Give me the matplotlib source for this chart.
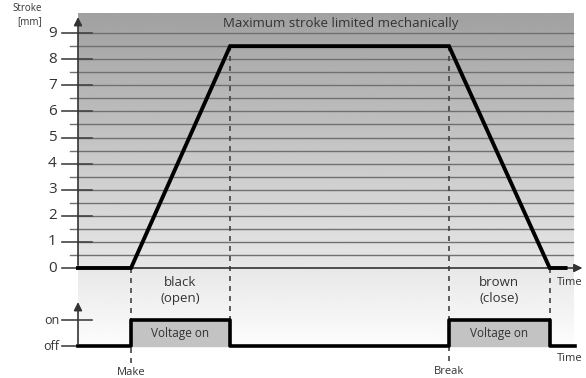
import numpy as np
import matplotlib.pyplot as plt

plt.rcParams['font.family'] = ['Open Sans', 'DejaVu Sans']

# switching instants (time axis, arbitrary units)
t_make = 1.0
t_open_end = 2.87
t_break = 7.0
t_close_end = 8.9

# stroke curve
t_stroke = [0, t_make, t_open_end, t_break, t_close_end, 9.2]
stroke = [0, 0, 8.5, 8.5, 0, 0]

# coil voltage: 0 = off, 1 = on
t_volt = [0, t_make, t_open_end, t_break, t_close_end, 9.38]
volt = [0, 1, 0, 1, 0, 0]

stroke_ticks = list(range(0, 10))
minor_ticks = [i + 0.5 for i in range(0, 9)]

y_off, y_on = -3.0, -2.0
txt = '#333333'

fig = plt.figure(figsize=(5.86, 3.78), dpi=100)
ax = fig.add_axes([0, 0, 1, 1])
ax.set_xlim(-78 / 53, 508 / 53)
ax.set_ylim(-110 / 26.1, 268 / 26.1)
ax.axis('off')

# grey background fading to white towards the bottom
grad = np.linspace(1.0, 0.63, 256).reshape(-1, 1)
ax.imshow(grad, cmap='gray', vmin=0, vmax=1, aspect='auto',
          extent=[0, 9.34, -3.3, 9.73], origin='lower', zorder=0)

# horizontal stroke lines
for y in minor_ticks:
    ax.plot([-0.15, 9.34], [y, y], color='#707070', lw=1.0, zorder=1)
for y in stroke_ticks[1:]:
    ax.plot([0, 9.34], [y, y], color='#707070', lw=1.0, zorder=1)
    ax.plot([-0.30, 0.26], [y, y], color='#444444', lw=1.2, zorder=2)
for y in stroke_ticks:
    ax.text(-0.40, y, str(y), ha='right', va='center', fontsize=11, color=txt)
ax.plot([-0.30, 0], [0, 0], color='#444444', lw=1.2, zorder=2)

ax.text(-0.68, 9.95, 'Stroke', ha='right', va='center', fontsize=7, color=txt)
ax.text(-0.68, 9.45, '[mm]', ha='right', va='center', fontsize=7, color=txt)
ax.text(4.95, 9.36, 'Maximum stroke limited mechanically', ha='center',
        va='center', fontsize=9.5, color=txt)

# axes with arrows
ax.annotate('', xy=(0, 9.72), xytext=(0, 0),
            arrowprops=dict(arrowstyle='-|>', color='#333333', lw=1.2,
                            mutation_scale=12), zorder=3)
ax.annotate('', xy=(9.57, 0), xytext=(0, 0),
            arrowprops=dict(arrowstyle='-|>', color='#333333', lw=1.2,
                            mutation_scale=12), zorder=3)
ax.annotate('', xy=(0, -1.2), xytext=(0, y_off),
            arrowprops=dict(arrowstyle='-|>', color='#333333', lw=1.2,
                            mutation_scale=12), zorder=3)
ax.text(9.03, -0.55, 'Time', ha='left', va='center', fontsize=8, color=txt)
ax.text(9.03, -3.45, 'Time', ha='left', va='center', fontsize=8, color=txt)

# on/off ticks
for y, lab in [(y_on, 'on'), (y_off, 'off')]:
    ax.plot([-0.30, 0.26], [y, y], color='#444444', lw=1.2, zorder=2)
    ax.text(-0.35, y, lab, ha='right', va='center', fontsize=9, color=txt)

# dashed switching markers
dash = dict(color='#444444', lw=1.2, ls=(0, (3, 3)), zorder=2)
ax.plot([t_make, t_make], [0, -3.75], **dash)
ax.plot([t_open_end, t_open_end], [8.5, y_on], **dash)
ax.plot([t_break, t_break], [8.5, -3.7], **dash)
ax.plot([t_close_end, t_close_end], [0, y_on], **dash)

# stroke curve
ax.plot(t_stroke, stroke, color='black', lw=2.8, solid_joinstyle='miter', zorder=4)

# voltage signal
v_y = [y_off + v * (y_on - y_off) for v in volt]
ax.step(t_volt, v_y, where='post', color='black', lw=2.6, zorder=4)
for t0, t1, v in zip(t_volt[:-1], t_volt[1:], volt):
    if v == 1:
        ax.fill_between([t0, t1], y_off, y_on, color='#c3c3c3', zorder=3)
        ax.text((t0 + t1) / 2, (y_off + y_on) / 2, 'Voltage on', ha='center',
                va='center', fontsize=8.5, color=txt, zorder=5)

ax.text((t_make + t_open_end) / 2, -0.85, 'black\n(open)', ha='center',
        va='center', fontsize=9.5, color=txt, linespacing=1.3)
ax.text((t_break + t_close_end) / 2, -0.85, 'brown\n(close)', ha='center',
        va='center', fontsize=9.5, color=txt, linespacing=1.3)
ax.text(t_make, -4.02, 'Make', ha='center', va='center', fontsize=8, color=txt)
ax.text(t_break, -3.95, 'Break', ha='center', va='center', fontsize=8, color=txt)

fig.savefig('out.png', dpi=100)
